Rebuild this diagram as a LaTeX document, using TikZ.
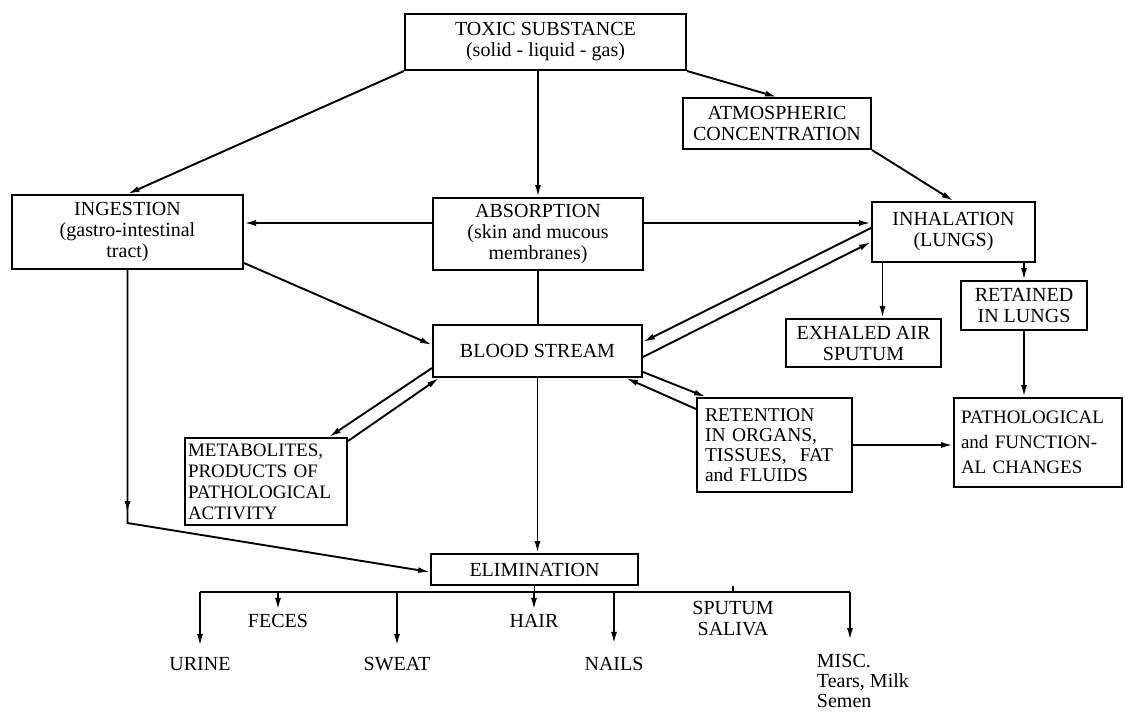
\documentclass[tikz,border=0pt]{standalone}
\usepackage{fontspec}
\setmainfont{Liberation Serif}
\usetikzlibrary{positioning,arrows.meta}

\begin{document}
\begin{tikzpicture}[>={Latex[length=12pt,width=6pt]}, x=1pt, y=-1pt,
        line width=1.9pt,
        box/.style={draw, line width=2pt, inner sep=0pt, align=center,
            font=\fontsize{20}{21}\selectfont},
        lbox/.style={box, align=left},
        lbl/.style={inner sep=1pt, align=center, font=\fontsize{20}{21}\selectfont}]
        \useasboundingbox (0,0) rectangle (1125,713);

        % boxes
        \node[box, minimum width=281pt, minimum height=56pt] (tox) at (545.5,42)
            {TOXIC SUBSTANCE\\(solid - liquid - gas)};
        \node[box, minimum width=188pt, minimum height=51pt] (atm) at (777,123.5)
            {ATMOSPHERIC\\CONCENTRATION};
        \node[box, minimum width=231pt, minimum height=74pt] (ing) at (127.5,232)
            {INGESTION\\(gastro-intestinal\\tract)};
        \node[box, minimum width=210pt, minimum height=72pt] (abs) at (538,234)
            {ABSORPTION\\(skin and mucous\\membranes)};
        \node[box, minimum width=163pt, minimum height=60pt] (inh) at (953.5,232)
            {INHALATION\\(LUNGS)};
        \node[box, minimum width=155pt, minimum height=48pt] (exh) at (863.5,343)
            {EXHALED AIR\\SPUTUM};
        \node[box, minimum width=126pt, minimum height=49pt] (ret) at (1024,305.5)
            {RETAINED\\IN LUNGS};
        \node[box, minimum width=209pt, minimum height=52pt] (blood) at (537.5,351)
            {BLOOD STREAM};
        \node[lbox, minimum width=162pt, minimum height=87pt, text width=156pt,
            font=\fontsize{19}{21}\selectfont] (meta) at (266,481.5)
            {METABOLITES,\\PRODUCTS OF\\PATHOLOGICAL\\ACTIVITY};
        \node[lbox, minimum width=155pt, minimum height=94pt, text width=139pt,
            font=\fontsize{19.5}{20}\selectfont] (reten) at (774.5,445)
            {RETENTION\\IN ORGANS,\\TISSUES,\ \ FAT\\and FLUIDS};
        \node[lbox, minimum width=168pt, minimum height=89pt, text width=154pt,
            font=\fontsize{19}{25}\selectfont] (path) at (1038,442.5)
            {PATHOLOGICAL\\and FUNCTION-\\AL CHANGES};
        \node[box, minimum width=207pt, minimum height=31pt] (elim) at (534.5,569.5)
            {ELIMINATION};

        % routes in
        \draw[->] (tox.south west) -- (ing.north);
        \draw[->] (abs.north |- tox.south) -- (abs.north);
        \draw[->] (tox.south east) -- (atm.north);
        \draw[->] (atm.south east) -- (inh.north);
        \draw[->] ([yshift=11pt]abs.west) -- ([yshift=11pt]abs.west -| ing.east);
        \draw[->] ([yshift=11pt]abs.east) -- ([yshift=11pt]abs.east -| inh.west);
        \draw (abs.south) -- (abs.south |- blood.north);
        \draw[->] ([yshift=7pt]ing.south east) -- ([yshift=6pt]blood.west);

        % exchange with the blood stream
        \draw[->] ([yshift=4pt]inh.west) -- ([yshift=9pt]blood.east);
        \draw[->] ([yshift=-6pt]blood.east) -- ([yshift=-10pt]inh.west);
        \draw[->] ([yshift=10pt]blood.south west) -- ([xshift=-19pt]meta.north east);
        \draw[->] ([yshift=-4pt]meta.north east) -- ([xshift=7pt]blood.south west);
        \draw[->] ([yshift=-21pt]blood.east) -- ([xshift=10pt]reten.north west);
        \draw[->] ([yshift=-12pt]reten.north west) -- ([xshift=-17pt]blood.south east);

        % lungs
        \coordinate (out) at ([xshift=-71pt]inh.south);
        \draw[->] (out) -- (out |- exh.north);
        \draw[->] (ret.north |- inh.south) -- (ret.north);
        \draw[->] (ret.south) -- (ret.south |- path.north);
        \draw[->] (reten.east) -- (reten.east -| path.west);

        % to elimination
        \coordinate (gut) at (ing.south |- 0,523);
        \draw[->] (ing.south) -- ([yshift=10pt]gut);
        \draw[->] (ing.south) -- (gut) -- ([yshift=-2.5pt]elim.west);
        \draw[->] (blood.south) -- (blood.south |- elim.north);

        % ways out
        \node[lbl, anchor=base] (urine) at (200,670) {URINE};
        \node[lbl, anchor=base] (feces) at (278,627) {FECES};
        \node[lbl, anchor=base] (sweat) at (397,670) {SWEAT};
        \node[lbl, anchor=base] (hair) at (534,627) {HAIR};
        \node[lbl, anchor=base] (nails) at (614,670) {NAILS};
        \node[lbl, anchor=north] (sput) at (733,599) {SPUTUM\\SALIVA};
        \node[lbl, anchor=north west, align=left, font=\fontsize{20}{20}\selectfont] (misc) at (815,652)
            {MISC.\\Tears,\ Milk\\Semen};

        \coordinate (bus) at (elim.south |- 0,592);
        \coordinate (busend) at (850,592);
        \draw (elim.south) -- (bus);
        \draw (urine |- bus) -- (busend);
        \draw[->, shorten >=9pt] (urine |- bus) -- (urine.north);
        \draw[->, shorten >=2pt] (feces |- bus) -- (feces.north);
        \draw[->, shorten >=9pt] (sweat |- bus) -- (sweat.north);
        \draw[->, shorten >=2pt] (hair |- bus) -- (hair.north);
        \draw[->, shorten >=11pt] (nails |- bus) -- (nails.north);
        \draw ([yshift=6pt]sput.north |- bus) -- (sput.north |- bus);
        \draw[->, shorten >=12pt] (busend) -- (busend |- misc.north);
    \end{tikzpicture}
\end{document}
